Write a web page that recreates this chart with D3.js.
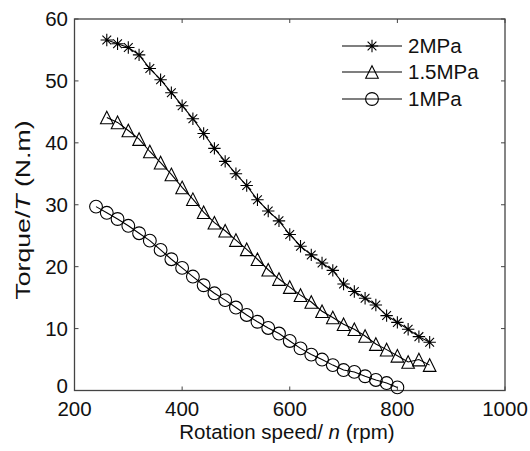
<!DOCTYPE html>
<html>
<head>
<meta charset="utf-8">
<script src="https://cdn.jsdelivr.net/npm/d3@7"></script>
<style>
	body { margin: 0; background: #fff; }
	text { font-family: "Liberation Sans", Arial, sans-serif; fill: #111; }
</style>
</head>
<body>
<svg width="530" height="451"></svg>
<script>
// Data (rotation speed in rpm, torque in N.m)
var speed2 = [260,280,300,320,340,360,380,400,420,440,460,480,500,520,540,560,580,600,620,640,660,680,700,720,740,760,780,800,820,840,860];
var torque2 = [56.6,56.0,55.4,54.2,52.0,50.2,48.1,46.0,43.9,41.5,39.1,37.0,35.0,33.1,30.8,29.0,27.4,25.2,23.3,21.9,20.6,19.4,17.2,16.0,14.9,13.8,12.1,11.0,9.9,8.7,7.8];

var speed15 = [260,280,300,320,340,360,380,400,420,440,460,480,500,520,540,560,580,600,620,640,660,680,700,720,740,760,780,800,820,840,860];
var torque15 = [44.1,43.3,42.0,40.6,38.6,36.8,34.9,32.8,30.9,28.8,27.1,25.8,24.3,22.8,21.2,19.5,18.0,16.7,15.4,14.3,12.8,11.8,10.7,9.9,8.8,7.5,6.6,5.6,4.6,5.0,4.1];

var speed1 = [240,260,280,300,320,340,360,380,400,420,440,460,480,500,520,540,560,580,600,620,640,660,680,700,720,740,760,780,800];
var torque1 = [29.7,28.7,27.7,26.6,25.4,24.2,22.7,21.2,19.8,18.4,17.0,15.7,14.6,13.4,12.2,11.1,10.1,9.2,8.0,6.8,5.8,5.0,4.1,3.3,3.0,2.3,1.7,1.2,0.5];

var seriesNames = ["2MPa", "1.5MPa", "1MPa"];
var xTicks = [200, 400, 600, 800, 1000];
var yTicks = [0, 10, 20, 30, 40, 50, 60];

var svg = d3.select("svg");
var pLeft = 74.5, pRight = 505, pTop = 19, pBottom = 390.5;
var fs = "20.5px";

var x = d3.scaleLinear().domain([200, 1000]).range([pLeft, pRight]);
var y = d3.scaleLinear().domain([0, 60]).range([pBottom, pTop]);

// marker shapes
function star(s) {
	var d = s * 0.707;
	return "M" + (-s) + ",0L" + s + ",0M0," + (-s) + "L0," + s +
		"M" + (-d) + "," + (-d) + "L" + d + "," + d +
		"M" + (-d) + "," + d + "L" + d + "," + (-d);
}
function tri(s) {
	return "M0," + (-s) + "L" + s + "," + s + "L" + (-s) + "," + s + "Z";
}
function circ(s) {
	return "M" + s + ",0A" + s + "," + s + " 0 1,1 " + (-s) + ",0A" + s + "," + s + " 0 1,1 " + s + ",0Z";
}
var markers = [star(6.2), tri(6.3), circ(6.4)];

var series = [
	{ xs: speed2, ys: torque2 },
	{ xs: speed15, ys: torque15 },
	{ xs: speed1, ys: torque1 }
];

// axes box with inward ticks on all four sides
svg.append("rect")
	.attr("x", pLeft).attr("y", pTop)
	.attr("width", pRight - pLeft).attr("height", pBottom - pTop)
	.attr("fill", "none").attr("stroke", "#444").attr("stroke-width", 1.3);

var ax = svg.append("g").attr("stroke", "#444").attr("stroke-width", 1);
xTicks.forEach(function(t) {
	ax.append("line").attr("x1", x(t)).attr("x2", x(t)).attr("y1", pBottom).attr("y2", pBottom - 4);
	ax.append("line").attr("x1", x(t)).attr("x2", x(t)).attr("y1", pTop).attr("y2", pTop + 4);
});
yTicks.forEach(function(t) {
	ax.append("line").attr("x1", pLeft).attr("x2", pLeft + 4).attr("y1", y(t)).attr("y2", y(t));
	ax.append("line").attr("x1", pRight).attr("x2", pRight - 4).attr("y1", y(t)).attr("y2", y(t));
});

svg.selectAll(".xlab")
	.data(xTicks)
	.enter().append("text")
	.attr("class", "xlab")
	.attr("x", d => x(d))
	.attr("y", 416)
	.attr("text-anchor", "middle")
	.style("font-size", fs)
	.text(d => d);

// the bottom "0" sits a little higher so it clears the "200" below it
svg.selectAll(".ylab")
	.data(yTicks)
	.enter().append("text")
	.attr("class", "ylab")
	.attr("x", 68)
	.attr("y", d => y(d) - (d === 0 ? 5 : 0))
	.attr("dy", "0.35em")
	.attr("text-anchor", "end")
	.style("font-size", fs)
	.text(d => d);

// axis titles
var xt = svg.append("text")
	.attr("x", 287).attr("y", 439)
	.attr("text-anchor", "middle")
	.style("font-size", fs);
xt.append("tspan").text("Rotation speed/ ");
xt.append("tspan").style("font-style", "italic").text("n");
xt.append("tspan").text(" (rpm)");

var yt = svg.append("text")
	.attr("transform", "translate(30,210) rotate(-90) scale(1.3,1)")
	.attr("text-anchor", "middle")
	.style("font-size", fs);
yt.append("tspan").text("Torque/");
yt.append("tspan").style("font-style", "italic").text("T");
yt.append("tspan").text(" (N.m)");

// lines and markers
var line = d3.line().x(d => x(d[0])).y(d => y(d[1]));

series.forEach(function(s, i) {
	var pts = s.xs.map((v, j) => [v, s.ys[j]]);
	svg.append("path")
		.datum(pts)
		.attr("d", line)
		.attr("fill", "none")
		.attr("stroke", "#000")
		.attr("stroke-width", 1.1);
	svg.selectAll(".m" + i)
		.data(pts)
		.enter().append("path")
		.attr("class", "m" + i)
		.attr("transform", d => "translate(" + x(d[0]) + "," + y(d[1]) + ")")
		.attr("d", markers[i])
		.attr("fill", "none")
		.attr("stroke", "#000")
		.attr("stroke-width", 1.1);
});

// legend
var leg = svg.append("g");
var legY = [46, 72, 99];
seriesNames.forEach(function(name, i) {
	leg.append("line")
		.attr("x1", 342).attr("x2", 402)
		.attr("y1", legY[i]).attr("y2", legY[i])
		.attr("stroke", "#000").attr("stroke-width", 1.1);
	leg.append("path")
		.attr("transform", "translate(372," + legY[i] + ")")
		.attr("d", markers[i])
		.attr("fill", "none")
		.attr("stroke", "#000")
		.attr("stroke-width", 1.1);
	leg.append("text")
		.attr("x", 408).attr("y", legY[i])
		.attr("dy", "0.35em")
		.style("font-size", fs)
		.text(name);
});
</script>
</body>
</html>
